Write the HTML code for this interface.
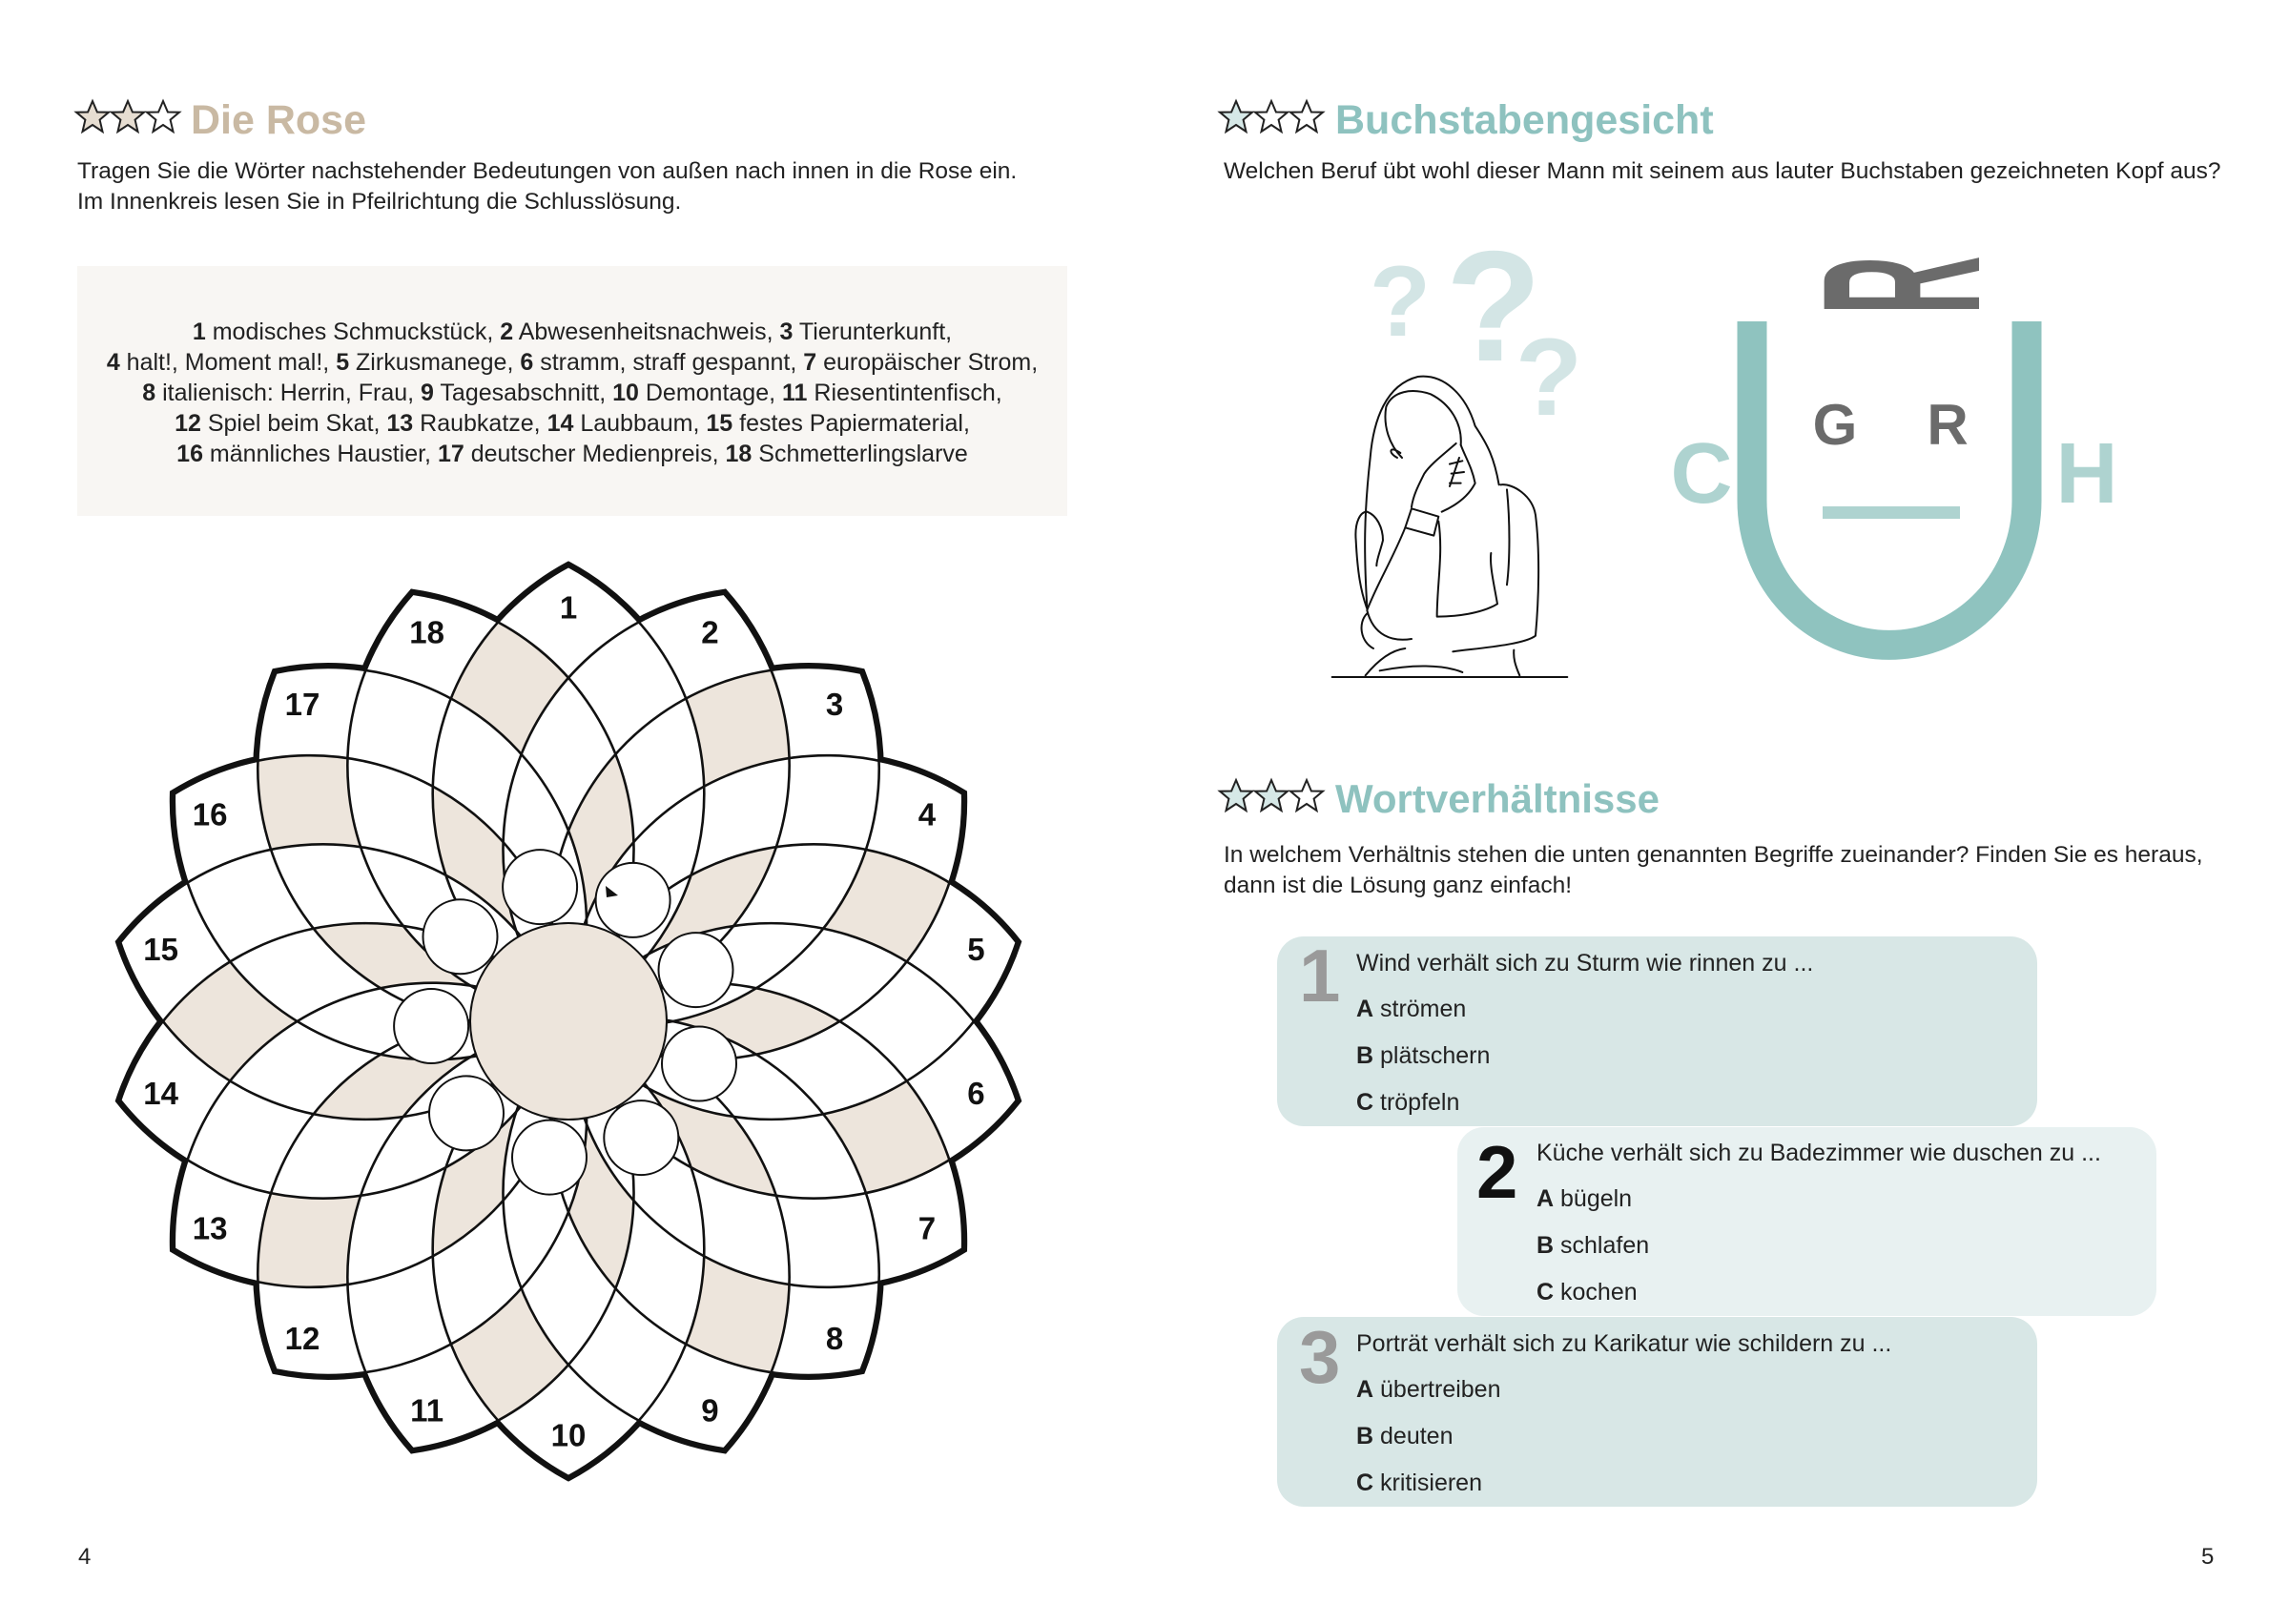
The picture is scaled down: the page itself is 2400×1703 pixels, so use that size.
<!DOCTYPE html>
<html><head><meta charset="utf-8"><style>
html,body{margin:0;padding:0;background:#fff;}
svg{display:block;}
text{font-family:"Liberation Sans",sans-serif;}
</style></head><body>
<svg width="2400" height="1703" viewBox="0 0 2400 1703" xmlns="http://www.w3.org/2000/svg">
<defs>
<path id="lens" d="M0,0 A271,271 0 0,1 0,-477 A271,271 0 0,1 0,0 Z"/>
<path id="sa" d="M0,0 A271,271 0 0,1 0,-477 L163.1,-448.2 A271,271 0 0,0 0,0 Z"/>
<polygon id="star" points="0,-17 4.9,-5.5 17,-5.3 7.6,2.6 10.5,15 0,8 -10.5,15 -7.6,2.6 -17,-5.3 -4.9,-5.5"/>
<clipPath id="cb0"><path transform="rotate(0)" d="M0,0 A271,271 0 0,0 0,-477 L163.1,-448.2 A271,271 0 0,1 0,0 Z"/></clipPath>
<clipPath id="cb2"><path transform="rotate(40)" d="M0,0 A271,271 0 0,0 0,-477 L163.1,-448.2 A271,271 0 0,1 0,0 Z"/></clipPath>
<clipPath id="cb4"><path transform="rotate(80)" d="M0,0 A271,271 0 0,0 0,-477 L163.1,-448.2 A271,271 0 0,1 0,0 Z"/></clipPath>
<clipPath id="cb6"><path transform="rotate(120)" d="M0,0 A271,271 0 0,0 0,-477 L163.1,-448.2 A271,271 0 0,1 0,0 Z"/></clipPath>
<clipPath id="cb8"><path transform="rotate(160)" d="M0,0 A271,271 0 0,0 0,-477 L163.1,-448.2 A271,271 0 0,1 0,0 Z"/></clipPath>
<clipPath id="cb10"><path transform="rotate(200)" d="M0,0 A271,271 0 0,0 0,-477 L163.1,-448.2 A271,271 0 0,1 0,0 Z"/></clipPath>
<clipPath id="cb12"><path transform="rotate(240)" d="M0,0 A271,271 0 0,0 0,-477 L163.1,-448.2 A271,271 0 0,1 0,0 Z"/></clipPath>
<clipPath id="cb14"><path transform="rotate(280)" d="M0,0 A271,271 0 0,0 0,-477 L163.1,-448.2 A271,271 0 0,1 0,0 Z"/></clipPath>
<clipPath id="cb16"><path transform="rotate(320)" d="M0,0 A271,271 0 0,0 0,-477 L163.1,-448.2 A271,271 0 0,1 0,0 Z"/></clipPath>
</defs>

<!-- LEFT PAGE -->
<g stroke="#222" stroke-width="2" fill="#e6ddd1">
<use href="#star" x="97" y="123"/><use href="#star" x="134" y="123"/><use href="#star" x="171" y="123" fill="#fff"/>
</g>
<text x="200" y="140" font-size="43" font-weight="bold" fill="#c9b9a3">Die Rose</text>
<text x="81" y="187" font-size="24.5" fill="#222">Tragen Sie die Wörter nachstehender Bedeutungen von außen nach innen in die Rose ein.</text>
<text x="81" y="219" font-size="24.5" fill="#222">Im Innenkreis lesen Sie in Pfeilrichtung die Schlusslösung.</text>

<rect x="81" y="279" width="1038" height="262" fill="#f8f6f3"/>
<g font-size="25" fill="#222" text-anchor="middle">
<text x="600" y="356"><tspan font-weight="bold">1</tspan> modisches Schmuckstück, <tspan font-weight="bold">2</tspan> Abwesenheitsnachweis, <tspan font-weight="bold">3</tspan> Tierunterkunft,</text>
<text x="600" y="388"><tspan font-weight="bold">4</tspan> halt!, Moment mal!, <tspan font-weight="bold">5</tspan> Zirkusmanege, <tspan font-weight="bold">6</tspan> stramm, straff gespannt, <tspan font-weight="bold">7</tspan> europäischer Strom,</text>
<text x="600" y="420"><tspan font-weight="bold">8</tspan> italienisch: Herrin, Frau, <tspan font-weight="bold">9</tspan> Tagesabschnitt, <tspan font-weight="bold">10</tspan> Demontage, <tspan font-weight="bold">11</tspan> Riesentintenfisch,</text>
<text x="600" y="452"><tspan font-weight="bold">12</tspan> Spiel beim Skat, <tspan font-weight="bold">13</tspan> Raubkatze, <tspan font-weight="bold">14</tspan> Laubbaum, <tspan font-weight="bold">15</tspan> festes Papiermaterial,</text>
<text x="600" y="484"><tspan font-weight="bold">16</tspan> männliches Haustier, <tspan font-weight="bold">17</tspan> deutscher Medienpreis, <tspan font-weight="bold">18</tspan> Schmetterlingslarve</text>
</g>

<!-- ROSE -->
<g transform="translate(596,1071)">
<g fill="none" stroke="#111" stroke-width="10" stroke-linejoin="miter">
<use href="#lens" transform="rotate(0)"/><use href="#lens" transform="rotate(20)"/><use href="#lens" transform="rotate(40)"/>
<use href="#lens" transform="rotate(60)"/><use href="#lens" transform="rotate(80)"/><use href="#lens" transform="rotate(100)"/>
<use href="#lens" transform="rotate(120)"/><use href="#lens" transform="rotate(140)"/><use href="#lens" transform="rotate(160)"/>
<use href="#lens" transform="rotate(180)"/><use href="#lens" transform="rotate(200)"/><use href="#lens" transform="rotate(220)"/>
<use href="#lens" transform="rotate(240)"/><use href="#lens" transform="rotate(260)"/><use href="#lens" transform="rotate(280)"/>
<use href="#lens" transform="rotate(300)"/><use href="#lens" transform="rotate(320)"/><use href="#lens" transform="rotate(340)"/>
</g>
<g fill="#fff" stroke="none">
<use href="#lens" transform="rotate(0)"/><use href="#lens" transform="rotate(20)"/><use href="#lens" transform="rotate(40)"/>
<use href="#lens" transform="rotate(60)"/><use href="#lens" transform="rotate(80)"/><use href="#lens" transform="rotate(100)"/>
<use href="#lens" transform="rotate(120)"/><use href="#lens" transform="rotate(140)"/><use href="#lens" transform="rotate(160)"/>
<use href="#lens" transform="rotate(180)"/><use href="#lens" transform="rotate(200)"/><use href="#lens" transform="rotate(220)"/>
<use href="#lens" transform="rotate(240)"/><use href="#lens" transform="rotate(260)"/><use href="#lens" transform="rotate(280)"/>
<use href="#lens" transform="rotate(300)"/><use href="#lens" transform="rotate(320)"/><use href="#lens" transform="rotate(340)"/>
</g>
<g fill="#ede5dc">
<g clip-path="url(#cb0)"><use href="#sa" transform="rotate(40)"/><use href="#sa" transform="rotate(80)"/></g>
<g clip-path="url(#cb2)"><use href="#sa" transform="rotate(80)"/><use href="#sa" transform="rotate(120)"/></g>
<g clip-path="url(#cb4)"><use href="#sa" transform="rotate(120)"/><use href="#sa" transform="rotate(160)"/></g>
<g clip-path="url(#cb6)"><use href="#sa" transform="rotate(160)"/><use href="#sa" transform="rotate(200)"/></g>
<g clip-path="url(#cb8)"><use href="#sa" transform="rotate(200)"/><use href="#sa" transform="rotate(240)"/></g>
<g clip-path="url(#cb10)"><use href="#sa" transform="rotate(240)"/><use href="#sa" transform="rotate(280)"/></g>
<g clip-path="url(#cb12)"><use href="#sa" transform="rotate(280)"/><use href="#sa" transform="rotate(320)"/></g>
<g clip-path="url(#cb14)"><use href="#sa" transform="rotate(320)"/><use href="#sa" transform="rotate(0)"/></g>
<g clip-path="url(#cb16)"><use href="#sa" transform="rotate(0)"/><use href="#sa" transform="rotate(40)"/></g>
</g>
<g fill="none" stroke="#111" stroke-width="2.6">
<use href="#lens" transform="rotate(0)"/><use href="#lens" transform="rotate(20)"/><use href="#lens" transform="rotate(40)"/>
<use href="#lens" transform="rotate(60)"/><use href="#lens" transform="rotate(80)"/><use href="#lens" transform="rotate(100)"/>
<use href="#lens" transform="rotate(120)"/><use href="#lens" transform="rotate(140)"/><use href="#lens" transform="rotate(160)"/>
<use href="#lens" transform="rotate(180)"/><use href="#lens" transform="rotate(200)"/><use href="#lens" transform="rotate(220)"/>
<use href="#lens" transform="rotate(240)"/><use href="#lens" transform="rotate(260)"/><use href="#lens" transform="rotate(280)"/>
<use href="#lens" transform="rotate(300)"/><use href="#lens" transform="rotate(320)"/><use href="#lens" transform="rotate(340)"/>
</g>
<circle cx="0" cy="0" r="103" fill="#ede5dc" stroke="#111" stroke-width="2"/>
<g fill="#fff" stroke="#111" stroke-width="2">
<circle cx="-29.9" cy="-140.9" r="39"/><circle cx="67.6" cy="-127.1" r="39"/><circle cx="133.5" cy="-53.9" r="39"/>
<circle cx="137" cy="44.5" r="39"/><circle cx="76.3" cy="122.1" r="39"/><circle cx="-20" cy="142.6" r="39"/>
<circle cx="-107" cy="96.4" r="39"/><circle cx="-143.9" cy="5" r="39"/><circle cx="-113.5" cy="-88.7" r="39"/>
</g>
<polygon points="39,-142 52,-132 40,-130" fill="#111"/>
<g font-size="33" font-weight="bold" fill="#111" text-anchor="middle" dominant-baseline="central">
<text x="0" y="-434">1</text><text x="148.4" y="-407.8">2</text><text x="279" y="-332.5">3</text>
<text x="375.9" y="-217">4</text><text x="427.4" y="-75.4">5</text><text x="427.4" y="75.4">6</text>
<text x="375.9" y="217">7</text><text x="279" y="332.5">8</text><text x="148.4" y="407.8">9</text>
<text x="0" y="434">10</text><text x="-148.4" y="407.8">11</text><text x="-279" y="332.5">12</text>
<text x="-375.9" y="217">13</text><text x="-427.4" y="75.4">14</text><text x="-427.4" y="-75.4">15</text>
<text x="-375.9" y="-217">16</text><text x="-279" y="-332.5">17</text><text x="-148.4" y="-407.8">18</text>
</g>
</g>
<text x="82" y="1640" font-size="24" fill="#222">4</text>

<!-- RIGHT PAGE -->
<g stroke="#222" stroke-width="2" fill="#d6e8e7">
<use href="#star" x="1296" y="123"/><use href="#star" x="1333" y="123" fill="#fff"/><use href="#star" x="1370" y="123" fill="#fff"/>
</g>
<text x="1400" y="140" font-size="43" font-weight="bold" fill="#8ec2bf">Buchstabengesicht</text>
<text x="1283" y="187" font-size="24.5" fill="#222">Welchen Beruf übt wohl dieser Mann mit seinem aus lauter Buchstaben gezeichneten Kopf aus?</text>

<!-- question marks -->
<g font-weight="bold" fill="#d3e5e5" text-anchor="middle">
<text x="1468" y="352" font-size="105">?</text>
<text x="1566" y="378" font-size="165">?</text>
<text x="1624" y="435" font-size="115">?</text>
</g>
<!-- woman sketch -->
<g transform="translate(1380,380) scale(0.3333)" fill="none" stroke="#111" stroke-width="6" stroke-linecap="round" stroke-linejoin="round">
<path d="M160,770 C150,600 150,480 170,300 C180,180 220,70 320,45 C400,35 470,100 500,200 C540,260 560,300 575,385"/>
<path d="M270,300 C230,260 210,200 220,140 C240,90 300,80 360,100 C420,130 460,190 455,260"/>
<path d="M255,300 C225,285 230,260 265,285"/>
<path d="M440,255 C400,290 360,320 340,350 C320,390 305,420 300,455 M450,300 C440,330 430,360 420,390 M420,320 L460,310 M425,350 L465,345 M420,380 L455,380 M455,260 C470,300 490,330 500,380 C480,420 440,450 395,470"/>
<path d="M300,460 L385,485 L370,545 L280,520 Z"/>
<path d="M280,520 C240,620 190,700 160,780 C180,860 240,880 300,870 M160,790 C130,820 140,880 180,900"/>
<path d="M160,470 C140,470 120,500 125,560 C130,660 140,720 160,775 M160,470 C190,480 210,520 210,560 C200,600 190,620 190,640"/>
<path d="M580,385 C620,380 680,420 690,480 C705,600 700,750 690,860 C650,890 500,900 430,910 M600,400 C610,500 610,620 600,700"/>
<path d="M385,500 C400,600 380,700 380,800 C440,800 520,790 570,760 C560,700 545,640 550,600"/>
<path d="M50,990 L790,990 M155,985 C200,930 240,905 280,900 M640,985 C625,950 620,930 622,905 M200,970 C300,950 400,950 460,975"/>
</g>

<!-- letter face -->
<path d="M1837,337 L1837,525 A136,143 0 0 0 2125,525 L2125,337" fill="none" stroke="#8fc3bf" stroke-width="31"/>
<g transform="translate(1990,299) rotate(-90) scale(0.36,1)"><text x="0" y="85" font-size="236" font-weight="bold" fill="#6b6b6b" text-anchor="middle">R</text></g>
<text x="1924" y="466" font-size="60" font-weight="bold" fill="#6b6b6b" text-anchor="middle">G</text>
<text x="2042" y="466" font-size="60" font-weight="bold" fill="#6b6b6b" text-anchor="middle">R</text>
<rect x="1911" y="531" width="144" height="13" fill="#aed3d0"/>
<text x="1784" y="527" font-size="90" font-weight="bold" fill="#aed3d0" text-anchor="middle">C</text>
<text x="2188" y="527" font-size="90" font-weight="bold" fill="#aed3d0" text-anchor="middle">H</text>

<!-- Wortverhältnisse -->
<g stroke="#222" stroke-width="2" fill="#d6e8e7">
<use href="#star" x="1296" y="835"/><use href="#star" x="1333" y="835"/><use href="#star" x="1370" y="835" fill="#fff"/>
</g>
<text x="1400" y="852" font-size="42" font-weight="bold" fill="#8ec2bf">Wortverhältnisse</text>
<text x="1283" y="904" font-size="24.5" fill="#222">In welchem Verhältnis stehen die unten genannten Begriffe zueinander? Finden Sie es heraus,</text>
<text x="1283" y="936" font-size="24.5" fill="#222">dann ist die Lösung ganz einfach!</text>

<rect x="1339" y="982" width="797" height="199" rx="28" fill="#d8e7e6"/>
<rect x="1528" y="1182" width="733" height="198" rx="28" fill="#e8f1f1"/>
<rect x="1339" y="1381" width="797" height="199" rx="28" fill="#d8e7e6"/>

<g font-size="25" fill="#222">
<text x="1362" y="1050" font-size="78" font-weight="bold" fill="#9a9a9a">1</text>
<text x="1422" y="1018">Wind verhält sich zu Sturm wie rinnen zu ...</text>
<text x="1422" y="1066"><tspan font-weight="bold">A</tspan> strömen</text>
<text x="1422" y="1115"><tspan font-weight="bold">B</tspan> plätschern</text>
<text x="1422" y="1164"><tspan font-weight="bold">C</tspan> tröpfeln</text>

<text x="1548" y="1256" font-size="78" font-weight="bold" fill="#111">2</text>
<text x="1611" y="1217">Küche verhält sich zu Badezimmer wie duschen zu ...</text>
<text x="1611" y="1265"><tspan font-weight="bold">A</tspan> bügeln</text>
<text x="1611" y="1314"><tspan font-weight="bold">B</tspan> schlafen</text>
<text x="1611" y="1363"><tspan font-weight="bold">C</tspan> kochen</text>

<text x="1362" y="1450" font-size="78" font-weight="bold" fill="#9a9a9a">3</text>
<text x="1422" y="1417">Porträt verhält sich zu Karikatur wie schildern zu ...</text>
<text x="1422" y="1465"><tspan font-weight="bold">A</tspan> übertreiben</text>
<text x="1422" y="1514"><tspan font-weight="bold">B</tspan> deuten</text>
<text x="1422" y="1563"><tspan font-weight="bold">C</tspan> kritisieren</text>
</g>
<text x="2308" y="1640" font-size="24" fill="#222">5</text>
</svg>
</body></html>
